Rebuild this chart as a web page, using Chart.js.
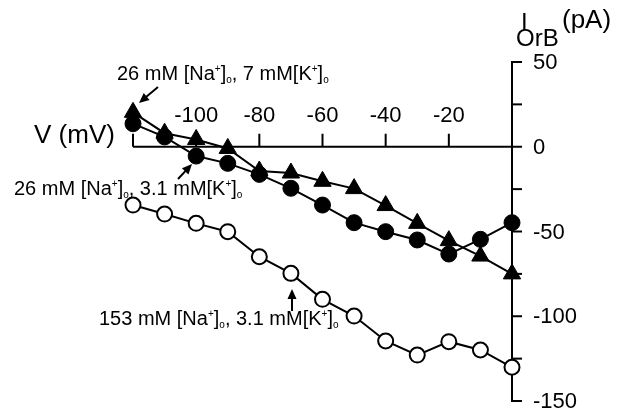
<!DOCTYPE html>
<html>
<head>
<meta charset="utf-8">
<script src="https://cdn.jsdelivr.net/npm/chart.js@4/dist/chart.umd.min.js"></script>
<style>
html, body { margin: 0; padding: 0; background: #fff; }
</style>
</head>
<body>
<canvas id="myChart" width="628" height="413"></canvas>
<script>
// membrane voltage (mV) and I_OrB current (pA)
const voltages = [-120, -110, -100, -90, -80, -70, -60, -50, -40, -30, -20, -10, 0];
const na26k7 = [20.3, 8, 4.3, -1, -14.3, -15.5, -20.4, -24.7, -34.7, -45.2, -55.4, -64.5, -75];
const na26k31 = [13.6, 5.8, -5.5, -9.8, -16.3, -24.5, -34.4, -44.8, -50.1, -55, -63.3, -54.6, -44.8];
const na153k31 = [-34.4, -39.7, -45.2, -50.1, -64.9, -74.7, -90, -99.9, -114.6, -122.9, -115, -119.9, -130.1];
const xTickLabels = [-100, -80, -60, -40, -20];
const xTickMarks = [-120, -100, -80, -60, -40, -20];
const yTickLabels = [50, 0, -50, -100, -150];
const yMinorTicks = [25, -25, -75, -125];

const FONT = '"Liberation Sans", Arial, Helvetica, sans-serif';

const pts = (ys) => voltages.map((v, i) => ({ x: v, y: ys[i] }));

// text with small super/subscripts: parts = [[text, 'n'|'sup'|'sub'], ...]
function drawRich(ctx, x, y, parts, size) {
    ctx.textAlign = 'left';
    ctx.textBaseline = 'alphabetic';
    for (const [t, kind] of parts) {
        if (kind === 'sup') {
            ctx.font = `${Math.round(size * 0.5)}px ${FONT}`;
            ctx.fillText(t, x, y - size * 0.42);
        } else if (kind === 'sub') {
            ctx.font = `${Math.round(size * 0.5)}px ${FONT}`;
            ctx.fillText(t, x, y + size * 0.15);
        } else {
            ctx.font = `${size}px ${FONT}`;
            ctx.fillText(t, x, y);
        }
        x += ctx.measureText(t).width;
    }
}

function arrow(ctx, x1, y1, x2, y2) {
    const a = Math.atan2(y2 - y1, x2 - x1);
    const hl = 10, hw = 4.5;
    ctx.beginPath();
    ctx.moveTo(x1, y1);
    ctx.lineTo(x2 - Math.cos(a) * hl * 0.8, y2 - Math.sin(a) * hl * 0.8);
    ctx.lineWidth = 2;
    ctx.stroke();
    ctx.beginPath();
    ctx.moveTo(x2, y2);
    ctx.lineTo(x2 - Math.cos(a) * hl - Math.sin(a) * hw, y2 - Math.sin(a) * hl + Math.cos(a) * hw);
    ctx.lineTo(x2 - Math.cos(a) * hl + Math.sin(a) * hw, y2 - Math.sin(a) * hl - Math.cos(a) * hw);
    ctx.closePath();
    ctx.fill();
}

const axesPlugin = {
    id: 'crossAxes',
    beforeDatasetsDraw(chart) {
        const ctx = chart.ctx;
        const xs = chart.scales.x, ys = chart.scales.y;
        const y0 = ys.getPixelForValue(0);
        const xR = xs.getPixelForValue(0);
        ctx.save();
        ctx.strokeStyle = '#000';
        ctx.fillStyle = '#000';
        ctx.lineWidth = 2;
        // x axis along I = 0
        ctx.beginPath();
        ctx.moveTo(xs.getPixelForValue(-120), y0);
        ctx.lineTo(xR, y0);
        ctx.stroke();
        xTickMarks.forEach(v => {
            const px = xs.getPixelForValue(v);
            ctx.beginPath();
            ctx.moveTo(px, y0);
            ctx.lineTo(px, y0 - 13);
            ctx.stroke();
        });
        ctx.font = `22px ${FONT}`;
        ctx.textAlign = 'center';
        ctx.textBaseline = 'alphabetic';
        xTickLabels.forEach(v => {
            ctx.fillText(String(v), xs.getPixelForValue(v), y0 - 25);
        });
        // y axis along V = 0
        ctx.beginPath();
        ctx.moveTo(xR, ys.getPixelForValue(50));
        ctx.lineTo(xR, ys.getPixelForValue(-150));
        ctx.stroke();
        yTickLabels.concat(yMinorTicks).forEach(v => {
            const py = ys.getPixelForValue(v);
            ctx.beginPath();
            ctx.moveTo(xR - 1, py);
            ctx.lineTo(xR + 10, py);
            ctx.stroke();
        });
        ctx.textAlign = 'left';
        ctx.textBaseline = 'middle';
        yTickLabels.forEach(v => {
            ctx.fillText(String(v), xR + 21, ys.getPixelForValue(v) + 1);
        });
        // axis titles
        ctx.textBaseline = 'alphabetic';
        ctx.font = `26px ${FONT}`;
        ctx.fillText('V (mV)', 34, 143);
        ctx.font = `24px ${FONT}`;
        ctx.fillText('I', 521, 30);
        ctx.fillText('OrB', 516, 46);
        ctx.font = `26px ${FONT}`;
        ctx.fillText('(pA)', 562, 28);
        ctx.restore();
    },
    afterDraw(chart) {
        const ctx = chart.ctx;
        ctx.save();
        ctx.fillStyle = '#000';
        ctx.strokeStyle = '#000';
        drawRich(ctx, 117, 80, [['26 mM [Na', 'n'], ['+', 'sup'], [']', 'n'], ['o', 'sub'], [', 7 mM[K', 'n'], ['+', 'sup'], [']', 'n'], ['o', 'sub']], 20);
        drawRich(ctx, 14, 195, [['26 mM [Na', 'n'], ['+', 'sup'], [']', 'n'], ['o', 'sub'], [', 3.1 mM[K', 'n'], ['+', 'sup'], [']', 'n'], ['o', 'sub']], 20);
        drawRich(ctx, 99, 325, [['153 mM [Na', 'n'], ['+', 'sup'], [']', 'n'], ['o', 'sub'], [', 3.1 mM[K', 'n'], ['+', 'sup'], [']', 'n'], ['o', 'sub']], 20);
        arrow(ctx, 158, 87, 139, 103);
        arrow(ctx, 178, 179, 192, 164);
        arrow(ctx, 292, 311, 292, 289);
        ctx.restore();
    }
};

const ctx = document.getElementById('myChart');
new Chart(ctx, {
    type: 'scatter',
    data: {
        datasets: [
            {
                label: '153 mM Na, 3.1 mM K',
                data: pts(na153k31),
                showLine: true,
                borderColor: '#000',
                borderWidth: 2,
                pointStyle: 'circle',
                pointRadius: 7.5,
                pointBackgroundColor: '#fff',
                pointBorderColor: '#000',
                pointBorderWidth: 2,
                clip: false
            },
            {
                label: '26 mM Na, 3.1 mM K',
                data: pts(na26k31),
                showLine: true,
                borderColor: '#000',
                borderWidth: 2,
                pointStyle: 'circle',
                pointRadius: 8,
                pointBackgroundColor: '#000',
                pointBorderColor: '#000',
                pointBorderWidth: 1,
                clip: false
            },
            {
                label: '26 mM Na, 7 mM K',
                data: pts(na26k7),
                showLine: true,
                borderColor: '#000',
                borderWidth: 2,
                pointStyle: 'triangle',
                pointRadius: 10,
                pointBackgroundColor: '#000',
                pointBorderColor: '#000',
                pointBorderWidth: 1,
                clip: false
            }
        ]
    },
    options: {
        responsive: false,
        animation: false,
        layout: { padding: { left: 133, right: 116, top: 62, bottom: 12 } },
        plugins: { legend: { display: false }, tooltip: { enabled: false } },
        scales: {
            x: { type: 'linear', min: -120, max: 0, display: false },
            y: { type: 'linear', min: -150, max: 50, display: false }
        }
    },
    plugins: [axesPlugin]
});
</script>
</body>
</html>
